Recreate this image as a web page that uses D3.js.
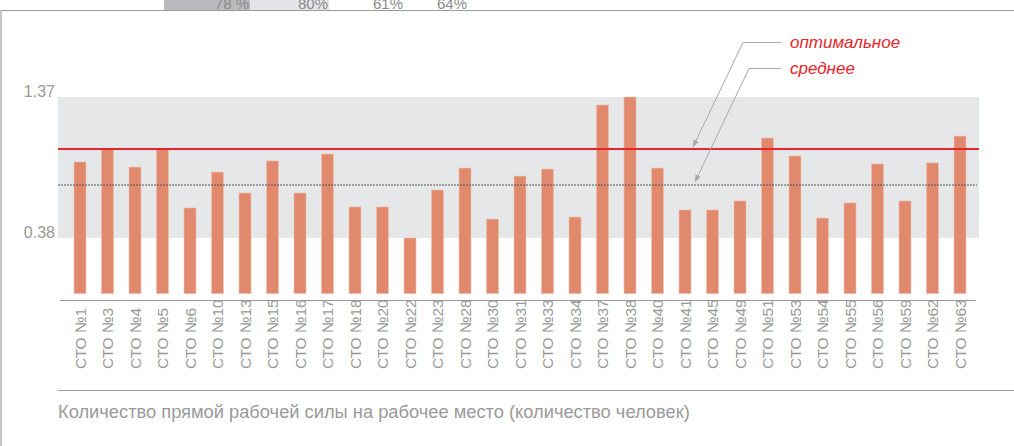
<!DOCTYPE html>
<html><head><meta charset="utf-8">
<script src="https://cdn.jsdelivr.net/npm/d3@7"></script>
<style>body{margin:0;background:#fff;}svg{display:block;font-family:"Liberation Sans",Arial,sans-serif;}</style>
</head><body>
<svg id="c" width="1014" height="446"></svg>
<script>
const categories = ["СТО №1","СТО №3","СТО №4","СТО №5","СТО №6","СТО №10","СТО №13","СТО №15","СТО №16","СТО №17","СТО №18","СТО №20","СТО №22","СТО №23","СТО №28","СТО №30","СТО №31","СТО №33","СТО №34","СТО №37","СТО №38","СТО №40","СТО №41","СТО №45","СТО №49","СТО №51","СТО №53","СТО №54","СТО №55","СТО №56","СТО №59","СТО №62","СТО №63"];
const values = [0.914,1.005,0.878,1.005,0.591,0.843,0.696,0.921,0.696,0.970,0.598,0.598,0.380,0.717,0.871,0.513,0.815,0.864,0.527,1.314,1.370,0.871,0.577,0.577,0.640,1.082,0.956,0.520,0.626,0.900,0.640,0.907,1.096];
const bandMin = 0.38, bandMax = 1.37;
const yTickLabels = ["1.37","0.38"];
const optimalValue = 1.005;
const averageValue = 0.752;
const topStripLabels = ["78 %","80%","61%","64%"];
const annotationLabels = ["оптимальное","среднее"];
const xTitle = "Количество прямой рабочей силы на рабочее место (количество человек)";

const svg = d3.select("#c");
const y = d3.scaleLinear().domain([0, 1.37]).range([292.1, 97]);
const x = d3.scaleBand().domain(categories).range([66.25, 973.75]).paddingInner(0.5636).paddingOuter(0.2818);

// top strip remnants
svg.append("rect").attr("x",164).attr("y",0).attr("width",86).attr("height",10).attr("fill","#b9babd");
svg.append("rect").attr("x",250).attr("y",0).attr("width",79).attr("height",10).attr("fill","#e4e5e6");
const topPos = [[249,"end"],[328,"end"],[373,"start"],[437,"start"]];
topStripLabels.forEach((t,i)=>{
  svg.append("text").attr("x",topPos[i][0]).attr("y",9).attr("text-anchor",topPos[i][1])
    .attr("font-size",15).attr("fill","#8a8a8a").text(t);
});
svg.append("line").attr("x1",0).attr("x2",1014).attr("y1",10.5).attr("y2",10.5).attr("stroke","#9a9a9a").attr("stroke-width",1.2);
svg.append("line").attr("x1",1).attr("x2",1).attr("y1",10).attr("y2",446).attr("stroke","#c4c4c4").attr("stroke-width",2);

// band
svg.append("rect").attr("x",58).attr("width",979-58).attr("y",y(bandMax)).attr("height",y(bandMin)-y(bandMax)).attr("fill","#e6e7e8");

// y labels
[bandMax, bandMin].forEach((v,i)=>{
  svg.append("text").attr("x",55).attr("y",y(v)).attr("dy",0).attr("text-anchor","end")
    .attr("font-size",16).attr("fill","#9a9a9a").text(yTickLabels[i]);
});

// bars
svg.append("g").selectAll("rect").data(values).join("rect")
  .attr("x",(d,i)=>x(categories[i])).attr("width",x.bandwidth())
  .attr("y",d=>y(d)).attr("height",d=>y(0)-y(d)+1.5)
  .attr("fill","#e0896d").attr("stroke","#efc0b0").attr("stroke-width",0.6);

// lines
svg.append("line").attr("x1",58).attr("x2",979).attr("y1",y(optimalValue)).attr("y2",y(optimalValue)).attr("stroke","#e8242c").attr("stroke-width",2);
svg.append("line").attr("x1",58).attr("x2",977).attr("y1",y(averageValue)).attr("y2",y(averageValue)).attr("stroke","#555").attr("stroke-width",1).attr("stroke-dasharray","2,1");

// annotations
const defs = svg.append("defs");
defs.append("marker").attr("id","ah").attr("viewBox","0 0 10 10").attr("refX",10).attr("refY",5)
  .attr("markerWidth",7).attr("markerHeight",7).attr("orient","auto-start-reverse")
  .append("path").attr("d","M0,1 L10,5 L0,9 z").attr("fill","#a8a8a8");
const ann = [
  {pts:[[781,42.5],[743,42.5],[693,147]], ty:48},
  {pts:[[781,68.5],[749,68.5],[695,182]], ty:74}
];
ann.forEach((a,i)=>{
  svg.append("path").attr("d",d3.line()(a.pts)).attr("fill","none").attr("stroke","#a8a8a8").attr("stroke-width",1).attr("marker-end","url(#ah)");
  svg.append("text").attr("x",790).attr("y",a.ty).attr("font-size",17).attr("font-style","italic").attr("fill","#e8242c").text(annotationLabels[i]);
});

// x axis line
svg.append("line").attr("x1",60).attr("x2",976).attr("y1",300.5).attr("y2",300.5).attr("stroke","#9a9a9a").attr("stroke-width",1.2);
// x labels
svg.append("g").selectAll("text").data(categories).join("text")
  .attr("transform",d=>`translate(${x(d)+x.bandwidth()/2+5.5},369) rotate(-90)`)
  .attr("text-anchor","start").attr("font-size",15.5).attr("fill","#9a9a9a").text(d=>d);

// bottom line and title
svg.append("line").attr("x1",58).attr("x2",1014).attr("y1",390.5).attr("y2",390.5).attr("stroke","#9a9a9a").attr("stroke-width",1.2);
svg.append("text").attr("x",58).attr("y",418).attr("font-size",18.3).attr("fill","#9a9a9a").text(xTitle);
</script>
</body></html>
